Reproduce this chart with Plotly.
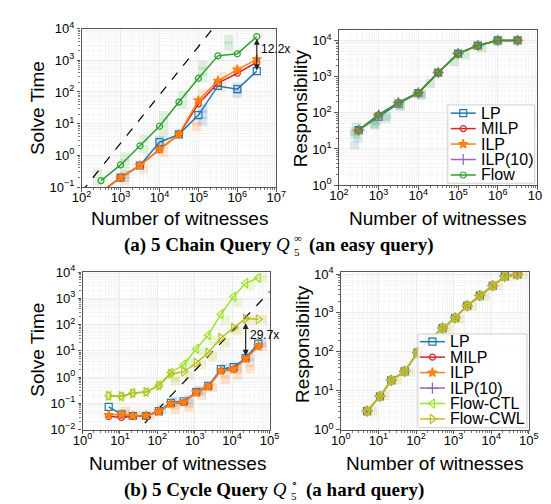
import math
import plotly.graph_objects as go

# ---------------- data ----------------
chain_x = [316, 1000, 3162, 10000, 31623, 100000, 316228, 1000000, 3162278]
chain_time_lp = [0.07, 0.2, 0.48, 2.6, 4.6, 18.6, 155, 123, 455]
chain_time_milp = [0.07, 0.2, 0.48, 1.55, 4.6, 42, 190, 390, 870]
chain_time_ilp = [0.07, 0.2, 0.48, 1.55, 4.6, 54, 225, 510, 1070]
chain_time_flow = [0.16, 0.5, 2.0, 8.3, 48, 270, 1380, 1600, 5600]
chain_resp_lp = [33, 78, 180, 350, 1280, 4300, 7200, 10000, 10000]
chain_resp = [33, 87, 190, 357, 1280, 4300, 7200, 10000, 10000]
chain_guide_x = [100, 3162278]
chain_guide_y = [0.071, 5.3e5]
chain_gap_x = 3162278
chain_gap_y = [5300, 480]
chain_gap_label = "12.2x"

# individual runs (faint)
chain_runs_flow_x = [260, 260, 1300, 1300, 1300, 4000, 4000, 13000, 13000, 13000, 40000, 40000, 130000, 130000, 130000, 600000, 600000]
chain_runs_flow_y = [0.15, 0.28, 0.3, 0.55, 0.9, 1.6, 3.2, 5, 10, 18, 40, 80, 280, 450, 700, 2800, 4500]
chain_runs_lp_x = [1300, 10000, 10000, 130000, 130000, 130000, 1000000, 1000000]
chain_runs_lp_y = [0.2, 1.6, 3.0, 12, 20, 30, 90, 140]
chain_runs_ilp_x = [1300, 1300, 4000, 13000, 13000, 90000, 90000, 130000, 400000, 400000, 1000000]
chain_runs_ilp_y = [0.15, 0.25, 0.35, 1.2, 2.2, 8, 12, 90, 150, 300, 500]
chain_runs_resp_x = [250, 260, 280, 800, 900, 1600, 3500, 12000, 20000, 80000, 150000, 400000, 1000000]
chain_runs_resp_y = [30, 25, 40, 50, 60, 80, 160, 330, 650, 2600, 4000, 6200, 9600]
chain_runs_resp_lp_x = [250, 300, 800, 1500, 3500, 12000]
chain_runs_resp_lp_y = [13, 20, 45, 70, 150, 300]

cycle_x = [5, 11, 22, 50, 110, 230, 510, 1100, 2300, 5000, 11000, 23000, 50000]
cycle_time_lp = [0.074, 0.038, 0.033, 0.033, 0.051, 0.105, 0.12, 0.27, 0.46, 2.0, 2.4, 5.3, 19]
cycle_time_milp = [0.032, 0.029, 0.033, 0.034, 0.048, 0.096, 0.11, 0.26, 0.43, 1.74, 2.0, 5.1, 15]
cycle_time_ilp = [0.036, 0.038, 0.033, 0.034, 0.048, 0.096, 0.11, 0.26, 0.43, 1.74, 2.0, 5.1, 15]
cycle_time_ctl = [0.195, 0.18, 0.25, 0.27, 0.49, 1.5, 3.0, 12, 40, 250, 1170, 3800, 6000]
cycle_time_cwl = [0.195, 0.19, 0.24, 0.27, 0.47, 1.35, 1.6, 3.5, 8.5, 31, 75, 170, 160]
cycle_resp = [3.0, 7.1, 18.5, 31.6, 95, 210, 405, 740, 1520, 2800, 5000, 8700, 9800]
cycle_guide_x = [10, 120000]
cycle_guide_y = [0.00178, 2300]
cycle_gap_x = 23000
cycle_gap_y = [130, 6.5]
cycle_gap_label = "29.7x"

cycle_runs_ilp_x = [14, 14, 30, 65, 300, 300, 700, 700, 1500, 1500, 3000, 6500, 6500, 14000, 14000, 30000, 30000, 65000]
cycle_runs_ilp_y = [0.04, 0.05, 0.035, 0.035, 0.06, 0.09, 0.07, 0.1, 0.2, 0.3, 0.4, 0.8, 1.4, 1.2, 2.0, 2.0, 3.5, 15]
cycle_runs_lp_x = [130, 300, 700, 1300, 6500, 14000, 30000, 60000]
cycle_runs_lp_y = [0.06, 0.12, 0.14, 0.3, 2.2, 2.5, 6, 20]
cycle_runs_ctl_x = [300, 700, 1500, 3000, 6500, 14000, 30000, 65000]
cycle_runs_ctl_y = [1.0, 3.5, 10, 25, 150, 700, 3000, 6000]
cycle_runs_cwl_x = [300, 700, 1500, 3000, 6500, 14000, 30000, 65000]
cycle_runs_cwl_y = [0.7, 1.2, 3, 6, 20, 60, 150, 160]
cycle_runs_resp_x = [7, 15, 32, 70, 160, 330, 700, 1500, 3200, 7000, 15000, 32000, 70000]
cycle_runs_resp_y = [3.0, 7.5, 19, 30, 100, 220, 400, 700, 1500, 2700, 5000, 8800, 9800]

names_a = ["LP", "MILP", "ILP", "ILP(10)", "Flow"]
names_b = ["LP", "MILP", "ILP", "ILP(10)", "Flow-CTL", "Flow-CWL"]

x_ticks_a = [1e2, 1e3, 1e4, 1e5, 1e6, 1e7]
x_ticktext_a = ["10<sup>2</sup>", "10<sup>3</sup>", "10<sup>4</sup>", "10<sup>5</sup>", "10<sup>6</sup>", "10<sup>7</sup>"]
y_ticks_ta = [1e-1, 1, 10, 1e2, 1e3, 1e4]
y_ticktext_ta = ["10<sup>−1</sup>", "10<sup>0</sup>", "10<sup>1</sup>", "10<sup>2</sup>", "10<sup>3</sup>", "10<sup>4</sup>"]
y_ticks_r = [1, 10, 1e2, 1e3, 1e4]
y_ticktext_r = ["10<sup>0</sup>", "10<sup>1</sup>", "10<sup>2</sup>", "10<sup>3</sup>", "10<sup>4</sup>"]
x_ticks_b = [1, 10, 1e2, 1e3, 1e4, 1e5]
x_ticktext_b = ["10<sup>0</sup>", "10<sup>1</sup>", "10<sup>2</sup>", "10<sup>3</sup>", "10<sup>4</sup>", "10<sup>5</sup>"]
y_ticks_tb = [1e-2, 1e-1, 1, 10, 1e2, 1e3, 1e4]
y_ticktext_tb = ["10<sup>−2</sup>", "10<sup>−1</sup>", "10<sup>0</sup>", "10<sup>1</sup>", "10<sup>2</sup>", "10<sup>3</sup>", "10<sup>4</sup>"]

# ---------------- styles ----------------
W, H = 551, 504
C = {"LP": "#1f77b4", "MILP": "#d62728", "ILP": "#ff7f0e", "ILP(10)": "#9467bd",
     "Flow": "#2ca02c", "Flow-CTL": "#9fe22b", "Flow-CWL": "#bcbd22"}
SYM = {"LP": ("square-open", 7), "MILP": ("circle-open", 6), "ILP": ("star", 7),
       "ILP(10)": ("cross-thin-open", 8), "Flow": ("circle-open", 6),
       "Flow-CTL": ("triangle-left-open", 8), "Flow-CWL": ("triangle-right-open", 8)}
SANS = "Liberation Sans, Arial, sans-serif"
SERIF = "Liberation Serif, Times New Roman, serif"

fig = go.Figure()


def faint(x, y, name, xa, ya, op=0.14):
    fig.add_trace(go.Scatter(
        x=x, y=y, mode="markers", showlegend=False, xaxis=xa, yaxis=ya, hoverinfo="skip",
        marker=dict(symbol="square", size=9, color=C[name], opacity=op, line=dict(width=0))))


def series(x, y, name, xa, ya):
    s, sz = SYM[name]
    fig.add_trace(go.Scatter(
        x=x, y=y, mode="lines+markers", name=name, showlegend=False,
        xaxis=xa, yaxis=ya,
        line=dict(color=C[name], width=1.5),
        marker=dict(symbol=s, size=sz, color=C[name], line=dict(color=C[name], width=1.2)),
    ))


def guide(x, y, xa, ya):
    fig.add_trace(go.Scatter(x=x, y=y, mode="lines", showlegend=False, xaxis=xa, yaxis=ya,
                             line=dict(color="black", width=1.2, dash="dash")))


# (a) solve time
faint(chain_runs_flow_x, chain_runs_flow_y, "Flow", "x", "y")
faint(chain_runs_lp_x, chain_runs_lp_y, "LP", "x", "y", 0.18)
faint(chain_runs_ilp_x, chain_runs_ilp_y, "ILP", "x", "y", 0.16)
guide(chain_guide_x, chain_guide_y, "x", "y")
series(chain_x, chain_time_lp, "LP", "x", "y")
series(chain_x, chain_time_milp, "MILP", "x", "y")
series(chain_x, chain_time_ilp, "ILP", "x", "y")
series(chain_x, chain_time_flow, "Flow", "x", "y")
# (a) responsibility
faint(chain_runs_resp_lp_x, chain_runs_resp_lp_y, "LP", "x2", "y2", 0.16)
faint(chain_runs_resp_x, chain_runs_resp_y, "Flow", "x2", "y2", 0.2)
series(chain_x, chain_resp_lp, "LP", "x2", "y2")
series(chain_x, chain_resp, "MILP", "x2", "y2")
series(chain_x, chain_resp, "ILP", "x2", "y2")
series(chain_x, chain_resp, "ILP(10)", "x2", "y2")
series(chain_x, chain_resp, "Flow", "x2", "y2")
# (b) solve time
faint(cycle_runs_ilp_x, cycle_runs_ilp_y, "ILP", "x3", "y3", 0.2)
faint(cycle_runs_lp_x, cycle_runs_lp_y, "LP", "x3", "y3", 0.18)
faint(cycle_runs_ctl_x, cycle_runs_ctl_y, "Flow-CTL", "x3", "y3", 0.2)
faint(cycle_runs_cwl_x, cycle_runs_cwl_y, "Flow-CWL", "x3", "y3", 0.2)
guide(cycle_guide_x, cycle_guide_y, "x3", "y3")
series(cycle_x, cycle_time_lp, "LP", "x3", "y3")
series(cycle_x, cycle_time_milp, "MILP", "x3", "y3")
series(cycle_x, cycle_time_ilp, "ILP", "x3", "y3")
series(cycle_x, cycle_time_ctl, "Flow-CTL", "x3", "y3")
series(cycle_x, cycle_time_cwl, "Flow-CWL", "x3", "y3")
# (b) responsibility
faint(cycle_runs_resp_x, cycle_runs_resp_y, "Flow-CWL", "x4", "y4", 0.22)
for n in names_b:
    series(cycle_x, cycle_resp, n, "x4", "y4")


# ---------------- custom legends (pixel overlay axis) ----------------
def legend_box(x0, x1, y0, y1, names, y_first, step, lx0, lx1, tx):
    fig.add_trace(go.Scatter(
        x=[x0, x1, x1, x0, x0], y=[y0, y0, y1, y1, y0], mode="lines", fill="toself",
        fillcolor="rgba(255,255,255,0.85)", line=dict(color="#d0d0d0", width=1),
        xaxis="x5", yaxis="y5", showlegend=False, hoverinfo="skip"))
    for i, n in enumerate(names):
        yy = y_first + i * step
        s, sz = SYM[n]
        fig.add_trace(go.Scatter(
            x=[lx0, lx1], y=[yy, yy], mode="lines",
            line=dict(color=C[n], width=1.5),
            xaxis="x5", yaxis="y5", showlegend=False, hoverinfo="skip"))
        fig.add_trace(go.Scatter(
            x=[(lx0 + lx1) / 2], y=[yy], mode="markers",
            marker=dict(symbol=s, size=sz, color=C[n], line=dict(color=C[n], width=1.2)),
            xaxis="x5", yaxis="y5", showlegend=False, hoverinfo="skip"))
        fig.add_annotation(x=tx, y=yy, xref="x5", yref="y5", text=n, showarrow=False,
                           xanchor="left", yanchor="middle",
                           font=dict(family=SANS, size=16, color="black"))


legend_box(446, 536, 91, 172, names_a, 99.5, 16, 449, 475, 478)
legend_box(415, 528, 328, 425, names_b, 336, 16, 417, 443, 446)


# ---------------- axes ----------------
def minor_vals(lo, hi):
    return [m * 10 ** e for e in range(lo, hi) for m in range(2, 10)]


def logaxis(domain, rng, anchor, tv, tt, standoff=0):
    return dict(type="log", domain=domain, range=rng, anchor=anchor,
                tickmode="array", tickvals=tv, ticktext=tt,
                showline=True, mirror=True, linecolor="#555", linewidth=1.3,
                ticks="outside", ticklen=3.5, tickwidth=1, tickcolor="#555",
                ticklabelstandoff=standoff,
                showgrid=True, gridcolor="#ececec", gridwidth=0.8, zeroline=False,
                tickfont=dict(family=SANS, size=13, color="black"),
                minor=dict(tickmode="array", tickvals=minor_vals(int(math.floor(rng[0])), int(math.ceil(rng[1]))),
                           ticks="outside", ticklen=2, tickcolor="#777",
                           showgrid=True, gridcolor="#f5f5f5", gridwidth=0.6))


def px2x(p):
    return p / W


def px2y(p):
    return 1 - p / H


layout = dict(
    width=W, height=H, margin=dict(l=0, r=0, t=0, b=0),
    paper_bgcolor="white", plot_bgcolor="rgba(0,0,0,0)", showlegend=False,
    xaxis=logaxis([px2x(66), px2x(268)], [2, 7], "y", x_ticks_a, x_ticktext_a, -5),
    yaxis=logaxis([px2y(176), px2y(12)], [-1, 4], "x", y_ticks_ta, y_ticktext_ta),
    xaxis2=logaxis([px2x(333), px2x(539)], [2, 7], "y2", x_ticks_a, x_ticktext_a, -5),
    yaxis2=logaxis([px2y(174), px2y(13)], [0, 4.3], "x2", y_ticks_r, y_ticktext_r),
    xaxis3=logaxis([px2x(67), px2x(261)], [0, 5], "y3", x_ticks_b, x_ticktext_b, -5),
    yaxis3=logaxis([px2y(427), px2y(264)], [-2, 4], "x3", y_ticks_tb, y_ticktext_tb),
    xaxis4=logaxis([px2x(335), px2x(530)], [0, 5], "y4", x_ticks_b, x_ticktext_b, -5),
    yaxis4=logaxis([px2y(427), px2y(264)], [0, 4.05], "x4", y_ticks_r, y_ticktext_r),
    xaxis5=dict(domain=[0, 1], range=[0, W], anchor="y5", visible=False, fixedrange=True),
    yaxis5=dict(domain=[0, 1], range=[H, 0], anchor="x5", visible=False, fixedrange=True),
)
fig.update_layout(**layout)

# gap arrows
for xa, ya, gx, gy, lab, ty in [("x", "y", chain_gap_x, chain_gap_y, chain_gap_label, 2300),
                                ("x3", "y3", cycle_gap_x, cycle_gap_y, cycle_gap_label, 40)]:
    fig.add_annotation(x=math.log10(gx), y=math.log10(gy[1]), ax=math.log10(gx), ay=math.log10(gy[0]),
                       xref=xa, yref=ya, axref=xa, ayref=ya, text="", showarrow=True,
                       arrowhead=2, arrowside="end+start", arrowsize=1, arrowwidth=1.2,
                       arrowcolor="#222")
    fig.add_annotation(x=math.log10(gx) + 0.06, y=math.log10(ty), xref=xa, yref=ya, text=lab,
                       showarrow=False, xanchor="left", yanchor="middle",
                       font=dict(family=SANS, size=12, color="black"))

# axis titles
titles = [
    ("Solve Time", 21, 94, -90), ("Responsibility", 293, 94, -90),
    ("Solve Time", 20, 344, -90), ("Responsibility", 295, 338, -90),
    ("Number of witnesses", 168, 209, 0), ("Number of witnesses", 435, 209, 0),
    ("Number of witnesses", 166, 462, 0), ("Number of witnesses", 432, 462, 0),
]
for t, x, y, ang in titles:
    fig.add_annotation(x=px2x(x), y=px2y(y), xref="paper", yref="paper", text=t,
                       showarrow=False, textangle=ang, xanchor="center", yanchor="middle",
                       font=dict(family=SANS, size=19, color="black"))

# captions
cap_font = dict(family=SERIF, size=19, color="black")
for p1, sup, p2, qx, cy in [
        ("<b>(a) 5 Chain Query</b> <i>Q</i>", "∞", "<b>(an easy query)</b>", 284, 236),
        ("<b>(b) 5 Cycle Query</b> <i>Q</i>", "∘", "<b>(a hard query)</b>", 281, 489)]:
    fig.add_annotation(x=px2x(qx), y=px2y(cy), xref="paper", yref="paper", text=p1, showarrow=False,
                       xanchor="right", yanchor="middle", font=cap_font)
    fig.add_annotation(x=px2x(qx + 1), y=px2y(cy - 7), xref="paper", yref="paper", text=sup,
                       showarrow=False, xanchor="left", yanchor="middle", borderpad=0,
                       font=dict(family=SERIF, size=11, color="black"))
    fig.add_annotation(x=px2x(qx + 1), y=px2y(cy + 7), xref="paper", yref="paper", text="5",
                       showarrow=False, xanchor="left", yanchor="middle", borderpad=0,
                       font=dict(family=SERIF, size=11, color="black"))
    fig.add_annotation(x=px2x(qx + 16), y=px2y(cy), xref="paper", yref="paper", text=p2, showarrow=False,
                       xanchor="left", yanchor="middle", font=cap_font)

fig.write_html("out.html")
